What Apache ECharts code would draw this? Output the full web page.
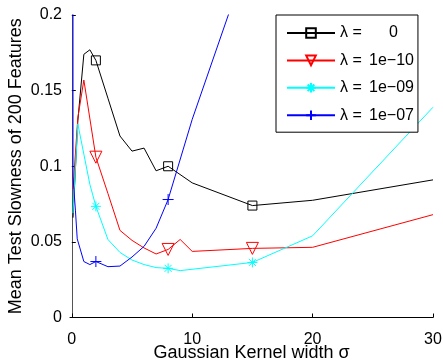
<!DOCTYPE html>
<html>
<head>
<meta charset="utf-8">
<script src="https://cdn.jsdelivr.net/npm/echarts@6/dist/echarts.min.js"></script>
<style>html,body{margin:0;padding:0;background:#fff}#c{width:443px;height:361px}</style>
</head>
<body>
<div id="c"></div>
<script>
// ---- data ----
const blackSigma = [0.1, 0.5, 1, 1.5, 2, 3, 4, 5, 6, 7, 8, 10, 15, 20, 30];
const blackVals  = [0.066, 0.13, 0.174, 0.177, 0.170, 0.145, 0.120, 0.110, 0.112, 0.097, 0.100, 0.089, 0.074, 0.0775, 0.091];

const redSigma = [0.1, 0.5, 1, 2, 3, 4, 5, 6, 7, 8, 9, 10, 15, 20, 30];
const redVals  = [0.085, 0.132, 0.157, 0.106, 0.082, 0.0576, 0.051, 0.046, 0.042, 0.045, 0.0516, 0.0437, 0.0457, 0.0464, 0.068];

const cyanSigma = [0.1, 0.5, 1, 1.5, 2, 3, 4, 5, 6, 7, 8, 9, 15, 20, 30];
const cyanVals  = [0.069, 0.128, 0.108, 0.088, 0.0735, 0.0516, 0.043, 0.038, 0.035, 0.033, 0.0325, 0.031, 0.0364, 0.054, 0.139];

const blueSigma = [0.05, 0.1, 0.3, 0.45, 1, 1.5, 2, 3, 4, 5, 6, 7, 8, 10, 15];
const blueVals  = [3.0, 0.093, 0.071, 0.052, 0.037, 0.035, 0.037, 0.0336, 0.034, 0.040, 0.047, 0.059, 0.078, 0.131, 0.246];

const markerSigma = [2, 8, 15];
const seriesNames = ['0', '1e\u221210', '1e\u221209', '1e\u221207'];
const xTicks = [0, 10, 20, 30];
const yTicks = [0, 0.05, 0.1, 0.15, 0.2];

const FONT = '"Liberation Sans", Arial, sans-serif';

function build(xs, ys) {
  return xs.map((x, i) => {
    const item = { value: [x, ys[i]] };
    if (markerSigma.indexOf(x) < 0) item.symbol = 'none';
    return item;
  });
}

const defs = [
  { xs: blackSigma, ys: blackVals, color: '#000000', symbol: 'rect', size: 9 },
  { xs: redSigma, ys: redVals, color: '#ff0000', symbol: 'path://M-10,-8L10,-8L0,10Z', size: 12 },
  { xs: cyanSigma, ys: cyanVals, color: '#00ffff', symbol: 'path://M0,-10L0,10M-10,0L10,0M-7,-7L7,7M-7,7L7,-7', size: 10 },
  { xs: blueSigma, ys: blueVals, color: '#0000ff', symbol: 'path://M0,-10L0,10M-10,0L10,0', size: 11 }
];

const series = defs.map((d, i) => ({
  name: seriesNames[i],
  type: 'line',
  data: build(d.xs, d.ys),
  symbol: d.symbol,
  symbolSize: d.size,
  showSymbol: true,
  clip: true,
  silent: true,
  animation: false,
  lineStyle: { color: d.color, width: 1 },
  itemStyle: { color: 'rgba(0,0,0,0)', borderColor: d.color, borderWidth: 1 },
  emphasis: { disabled: true }
}));

const chart = echarts.init(document.getElementById('c'), null, { renderer: 'canvas' });
chart.setOption({
  animation: false,
  backgroundColor: '#ffffff',
  grid: { left: 70, right: 10, top: 15, bottom: 43.5, containLabel: false, outerBoundsMode: 'none' },
  xAxis: {
    type: 'value', min: -0.15, max: 30,
    name: 'Gaussian Kernel width \u03c3', nameLocation: 'middle', nameGap: 27, nameMoveOverlap: false,
    nameTextStyle: { fontFamily: FONT, fontSize: 18, color: '#000' },
    axisLine: { lineStyle: { color: '#000', width: 1 } },
    axisTick: { inside: true, length: 4, customValues: xTicks, lineStyle: { color: '#000' } },
    axisLabel: { customValues: xTicks, fontFamily: FONT, fontSize: 16, color: '#000', margin: 14 },
    splitLine: { show: false }
  },
  yAxis: {
    type: 'value', min: 0, max: 0.2, interval: 0.05,
    name: 'Mean Test Slowness of 200 Features', nameLocation: 'middle', nameGap: 45, nameMoveOverlap: false,
    nameTextStyle: { fontFamily: FONT, fontSize: 18, color: '#000' },
    axisLine: { lineStyle: { color: '#555', width: 1 } },
    axisTick: { inside: true, length: 4, lineStyle: { color: '#000' } },
    axisLabel: { fontFamily: FONT, fontSize: 16, color: '#000', margin: 8,
      formatter: v => String(yTicks.find(t => Math.abs(t - v) < 1e-9) ?? v) },
    splitLine: { show: false }
  },
  legend: {
    left: 276, top: 15, orient: 'vertical',
    backgroundColor: '#fff', borderColor: '#000', borderWidth: 1,
    padding: [10, 4, 9, 10],
    itemWidth: 48, itemHeight: 12, itemGap: 11.4,
    selectedMode: false,
    textStyle: {
      fontFamily: FONT, fontSize: 16, color: '#000',
      rich: {
        l: { fontFamily: FONT, fontSize: 16, color: '#000', width: 29 },
        v: { fontFamily: FONT, fontSize: 16, color: '#000' },
        z: { fontFamily: FONT, fontSize: 16, color: '#000', padding: [0, 0, 0, 20] }
      }
    },
    formatter: name => '{l|\u03bb =}' + (name === '0' ? '{z|0}' : '{v|' + name + '}'),
    data: seriesNames
  },
  series: series
});
</script>
</body>
</html>
